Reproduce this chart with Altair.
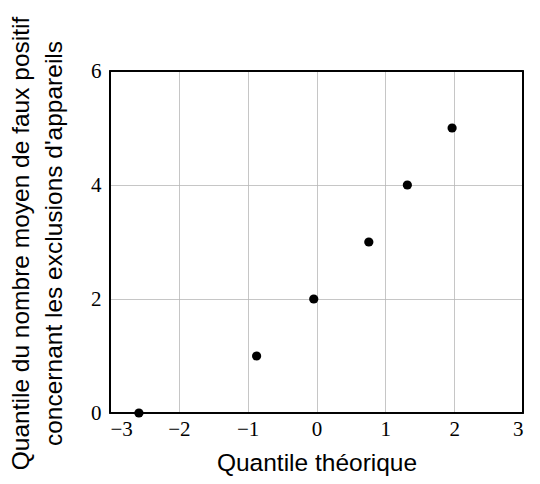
import altair as alt
import pandas as pd

x_vals = [-2.58, -0.87, -0.04, 0.76, 1.32, 1.97]
y_vals = [0, 1, 2, 3, 4, 5]
x_ticks = [-3, -2, -1, 0, 1, 2, 3]
y_ticks = [0, 2, 4, 6]

df = pd.DataFrame({"x": x_vals, "y": y_vals})

W, H = 413, 342

points = alt.Chart(df).mark_circle(color="black", opacity=1, size=85).encode(
    x=alt.X("x:Q", scale=alt.Scale(domain=[-3, 3], nice=False),
            axis=alt.Axis(values=x_ticks, title="Quantile théorique",
                          labelExpr="replace(datum.label, '-', '\u2212')")),
    y=alt.Y("y:Q", scale=alt.Scale(domain=[0, 6], nice=False),
            axis=alt.Axis(values=y_ticks,
                          title=["Quantile du nombre moyen de faux positif",
                                 "concernant les exclusions d'appareils"])),
)

frame = alt.Chart(df).mark_rect(fill=None, stroke="black", strokeWidth=1.2).encode(
    x=alt.value(0), x2=alt.value(W), y=alt.value(0), y2=alt.value(H)
)

chart = alt.layer(frame, points).properties(
    width=W, height=H,
    autosize=alt.AutoSizeParams(type="none"),
    padding={"left": 102, "top": 63, "right": 9, "bottom": 63},
).configure_view(
    stroke=None
).configure_axis(
    grid=True, gridColor="#b8b8b8", gridWidth=0.8,
    domain=False, ticks=False,
    labelFont="Liberation Serif", labelFontSize=21, labelColor="black",
    titleFont="Liberation Sans", titleFontSize=24.5, titleFontWeight="normal",
    titleColor="black",
).configure_axisX(
    labelPadding=5, titlePadding=12,
).configure_axisY(
    labelPadding=9, titleLineHeight=33, titleX=-77, titleY=172,
)

chart.save("out.html", embed_options={"renderer": "svg", "actions": False})
